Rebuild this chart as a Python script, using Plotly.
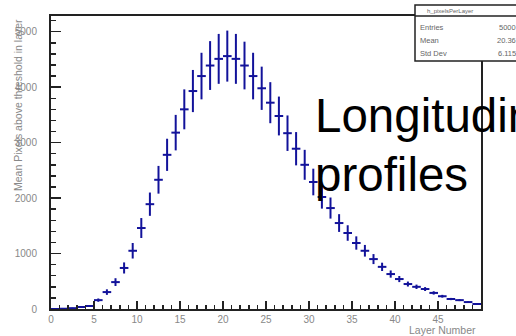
import plotly.graph_objects as go

# ---- data ----
layer_centers = [i + 0.5 for i in range(50)]
mean_pixels = [0, 5, 15, 36, 54, 160, 305, 485, 740, 1050,
               1460, 1890, 2330, 2780, 3180, 3600, 3930, 4200, 4390, 4510,
               4560, 4510, 4390, 4200, 3980, 3720, 3480, 3170, 2890, 2600,
               2290, 2020, 1820, 1550, 1370, 1190, 1050, 900, 760, 630,
               540, 450, 400, 360, 290, 230, 180, 160, 125, 90]
mean_err = [0, 3, 8, 15, 15, 30, 50, 70, 100, 140,
            180, 210, 250, 290, 320, 360, 380, 420, 440, 450,
            460, 450, 430, 420, 390, 370, 350, 320, 300, 270,
            240, 210, 190, 160, 140, 120, 105, 90, 75, 65,
            55, 45, 40, 35, 30, 25, 20, 18, 15, 12]
x_tick_vals = [0, 5, 10, 15, 20, 25, 30, 35, 40, 45]
y_tick_vals = [0, 1000, 2000, 3000, 4000, 5000]
stats_labels = ["Entries", "Mean", "Std Dev"]
stats_values = ["5000", "20.36", "6.115"]
hist_name = "h_pixelsPerLayer"

W, H = 516, 336
L, R, T, B = 51, 481, 16, 309
def px(x):
    return (x - L) / (R - L)
def py(y):
    return (B - y) / (B - T)

line_col = "#12129a"
fig = go.Figure()
fig.add_trace(go.Scatter(
    x=layer_centers, y=mean_pixels, mode="markers",
    marker=dict(size=1, color=line_col, opacity=0),
    error_y=dict(type="data", array=mean_err, visible=True, width=0,
                 thickness=2, color=line_col),
    error_x=dict(type="constant", value=0.5, visible=True, width=0,
                 thickness=2, color=line_col),
    showlegend=False, cliponaxis=True, hoverinfo="skip"))

axis_common = dict(showline=True, linecolor="#222", linewidth=2, mirror=True,
                   showgrid=False, zeroline=False, ticks="inside",
                   tickcolor="#222", tickwidth=1.5,
                   tickfont=dict(family="Liberation Sans, Arial", size=10, color="#888"))
fig.update_xaxes(range=[0, 50], tickvals=x_tick_vals,
                 ticktext=[str(v) for v in x_tick_vals], ticklen=8,
                 minor=dict(dtick=1, tick0=0, ticklen=4, ticks="inside",
                            tickcolor="#222", tickwidth=1.5),
                 **axis_common)
fig.update_yaxes(range=[0, 5283], tickvals=y_tick_vals,
                 ticktext=[str(v) for v in y_tick_vals], ticklen=10,
                 ticklabelstandoff=10,
                 minor=dict(dtick=200, tick0=0, ticklen=5, ticks="inside",
                            tickcolor="#222", tickwidth=1.5),
                 **axis_common)

ann = []
title_font = dict(family="Liberation Sans, Arial", size=10.5, color="#888")
ann.append(dict(text="Layer Number", x=px(478), y=py(330), xref="paper", yref="paper",
                xanchor="right", yanchor="middle", showarrow=False, font=title_font))
ann.append(dict(text="Mean Pixels above threshold in layer", x=px(18), y=py(17),
                xref="paper", yref="paper", xanchor="center", yanchor="top",
                textangle=-90, showarrow=False, font=title_font))
big_font = dict(family="Liberation Sans, Arial", size=47.5, color="black")
ann.append(dict(text="Longitudinal", x=px(313), y=py(133), xref="paper", yref="paper",
                xanchor="left", yanchor="bottom", yshift=-11, showarrow=False,
                font=big_font))
ann.append(dict(text="profiles", x=px(313), y=py(192), xref="paper", yref="paper",
                xanchor="left", yanchor="bottom", yshift=-11, showarrow=False,
                font=big_font))

# stats box
shapes = [dict(type="rect", xref="paper", yref="paper", x0=px(415), x1=px(540),
               y0=py(61), y1=py(5), line=dict(color="#222", width=1.5),
               fillcolor="white", layer="above"),
          dict(type="line", xref="paper", yref="paper", x0=px(415), x1=px(540),
               y0=py(16), y1=py(16), line=dict(color="#222", width=1.5), layer="above")]
stat_font = dict(family="Liberation Sans, Arial", size=7.5, color="#666")
ann.append(dict(text=hist_name, x=px(450), y=py(10.5), xref="paper", yref="paper",
                xanchor="center", yanchor="middle", showarrow=False,
                font=dict(family="Liberation Sans, Arial", size=6, color="#666")))
rows_y = [27, 40, 53]
for lab, val, ry in zip(stats_labels, stats_values, rows_y):
    ann.append(dict(text=lab, x=px(418), y=py(ry), xref="paper", yref="paper",
                    xanchor="left", yanchor="middle", showarrow=False, font=stat_font))
    ann.append(dict(text=val, x=px(518), y=py(ry), xref="paper", yref="paper",
                    xanchor="right", yanchor="middle", showarrow=False, font=stat_font))

fig.update_layout(width=W, height=H, margin=dict(l=L, r=W - R, t=T, b=H - B),
                  paper_bgcolor="white", plot_bgcolor="white",
                  annotations=ann, shapes=shapes)
fig.write_html("out.html", config={"displayModeBar": False, "staticPlot": True},
               post_script="document.body.style.margin='0';document.body.style.overflow='hidden';")
